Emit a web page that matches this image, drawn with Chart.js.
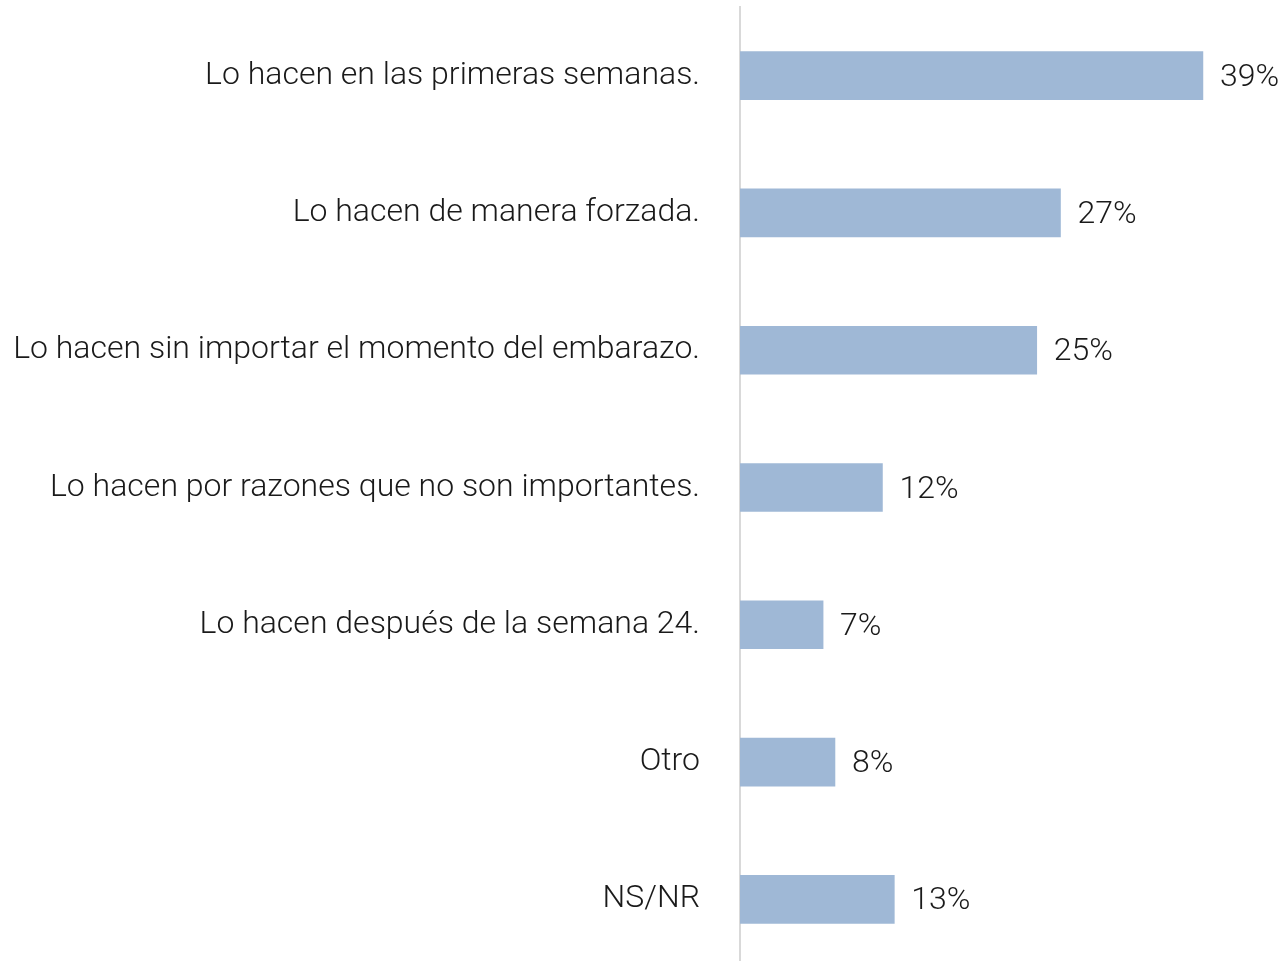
<!DOCTYPE html>
<html>
<head>
<meta charset="utf-8">
<script src="https://cdn.jsdelivr.net/npm/chart.js@4"></script>
<style>
  html, body { margin: 0; padding: 0; background: #fff; overflow: hidden; }
  #wrap { width: 1286px; height: 968px; }
</style>
</head>
<body>
<div id="wrap"><canvas id="chart"></canvas></div>
<script>
const categories = [
  'Lo hacen en las primeras semanas.',
  'Lo hacen de manera forzada.',
  'Lo hacen sin importar el momento del embarazo.',
  'Lo hacen por razones que no son importantes.',
  'Lo hacen después de la semana 24.',
  'Otro',
  'NS/NR'
];
const values = [39, 27, 25, 12, 7, 8, 13];

const FONT = 'Roboto, sans-serif';

// draws the "39%" style labels at the end of each bar
const valueLabels = {
  id: 'valueLabels',
  afterDatasetsDraw(chart) {
    const ctx = chart.ctx;
    const meta = chart.getDatasetMeta(0);
    ctx.save();
    ctx.font = '300 32px ' + FONT;
    ctx.fillStyle = '#1a1a1a';
    ctx.textAlign = 'left';
    ctx.textBaseline = 'middle';
    meta.data.forEach((bar, i) => {
      ctx.fillText(values[i] + '%', bar.x + 17, bar.y + 2);
    });
    ctx.restore();
  }
};

new Chart(document.getElementById('chart'), {
  type: 'bar',
  data: {
    labels: categories,
    datasets: [{
      data: values,
      backgroundColor: '#9fb8d6',
      barThickness: 48
    }]
  },
  options: {
    indexAxis: 'y',
    responsive: true,
    maintainAspectRatio: false,
    animation: false,
    layout: { padding: { top: 7, right: 0, bottom: 0, left: 0 } },
    plugins: {
      legend: { display: false },
      tooltip: { enabled: false }
    },
    scales: {
      x: {
        display: false,
        min: 0,
        max: 46
      },
      y: {
        afterFit(scale) {
          scale.width = 740;
          scale.paddingTop = 0;
          scale.paddingBottom = 0;
        },
        grid: { display: false, drawTicks: false },
        border: { display: true, color: '#d9d9d9', width: 2 },
        ticks: {
          padding: 40,
          color: '#1a1a1a',
          font: { family: FONT, size: 32, weight: '300' }
        }
      }
    }
  },
  plugins: [valueLabels]
});
</script>
</body>
</html>
